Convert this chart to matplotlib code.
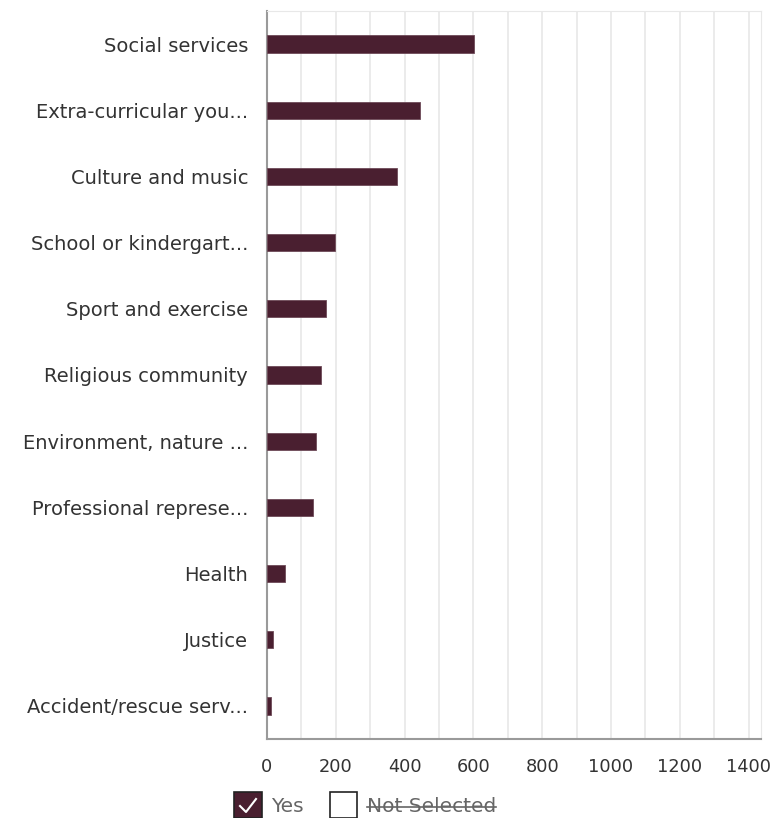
import matplotlib
matplotlib.use('Agg')
import matplotlib.pyplot as plt
from matplotlib.patches import Rectangle
from matplotlib.lines import Line2D

categories = ["Social services", "Extra-curricular you...", "Culture and music",
              "School or kindergart...", "Sport and exercise", "Religious community",
              "Environment, nature ...", "Professional represe...", "Health",
              "Justice", "Accident/rescue serv..."]
yes_values = [602, 445, 379, 198, 172, 157, 142, 134, 51, 18, 11]
x_ticks = [0, 200, 400, 600, 800, 1000, 1200, 1400]
legend_labels = ["Yes", "Not Selected"]

BAR = "#4a1f30"
TXT = "#333333"

plt.rcParams['font.family'] = ['DejaVu Sans']

W, H = 774, 818
fig = plt.figure(figsize=(W / 100, H / 100), dpi=100)
# axes box in pixels: left 267, right 761, top 11, bottom 739
ax = fig.add_axes([267 / W, 1 - 739 / H, (761 - 267) / W, (739 - 11) / H])

ypos = list(range(len(categories)))
ax.barh(ypos, yes_values, height=0.26, color=BAR, edgecolor="#6e4a58", linewidth=0.6, zorder=3)
ax.set_yticks(ypos)
ax.set_yticklabels(categories)
ax.set_ylim(len(categories) - 0.5, -0.5)
ax.set_xlim(0, 1436)

ax.set_xticks(x_ticks)
ax.set_xticks(range(100, 1500, 100), minor=True)
ax.grid(True, axis='x', which='both', color='#e8e8e8', linewidth=1.2, zorder=0)
ax.tick_params(axis='both', which='both', length=0, colors=TXT)
ax.tick_params(axis='y', pad=13.5, labelsize=14)
ax.tick_params(axis='x', pad=14, labelsize=12.8)

for side in ['top', 'right']:
    ax.spines[side].set_color('#e8e8e8')
ax.spines['left'].set_color('#9a9a9a')
ax.spines['left'].set_linewidth(1.5)
ax.spines['bottom'].set_color('#9a9a9a')
ax.spines['bottom'].set_linewidth(1.5)

# legend drawn by hand (checkbox style)
def px(x, y):
    return x / W, 1 - y / H

bx, by = px(234, 818)
fig.add_artist(Rectangle((bx, by), 28 / W, 26 / H, transform=fig.transFigure,
                         facecolor=BAR, edgecolor='#222222', linewidth=1.2))
cx = [px(240, 806), px(246, 812), px(256, 799)]
fig.add_artist(Line2D([p[0] for p in cx], [p[1] for p in cx], transform=fig.transFigure,
                      color='white', linewidth=1.5))
fig.text(*px(271, 806), legend_labels[0], color='#666666', fontsize=14.5, va='center', ha='left')

bx2, by2 = px(330, 818)
fig.add_artist(Rectangle((bx2, by2), 27 / W, 26 / H, transform=fig.transFigure,
                         facecolor='white', edgecolor='#222222', linewidth=1.2))
t = fig.text(*px(367, 806), legend_labels[1], color='#666666', fontsize=14.5, va='center', ha='left')
fig.canvas.draw()
bb = t.get_window_extent(fig.canvas.get_renderer()).transformed(fig.transFigure.inverted())
ymid = bb.y0 + bb.height * 0.45
fig.add_artist(Line2D([bb.x0, bb.x1], [ymid, ymid], transform=fig.transFigure,
                      color='#666666', linewidth=1.2))

fig.savefig("out.png", dpi=100)
